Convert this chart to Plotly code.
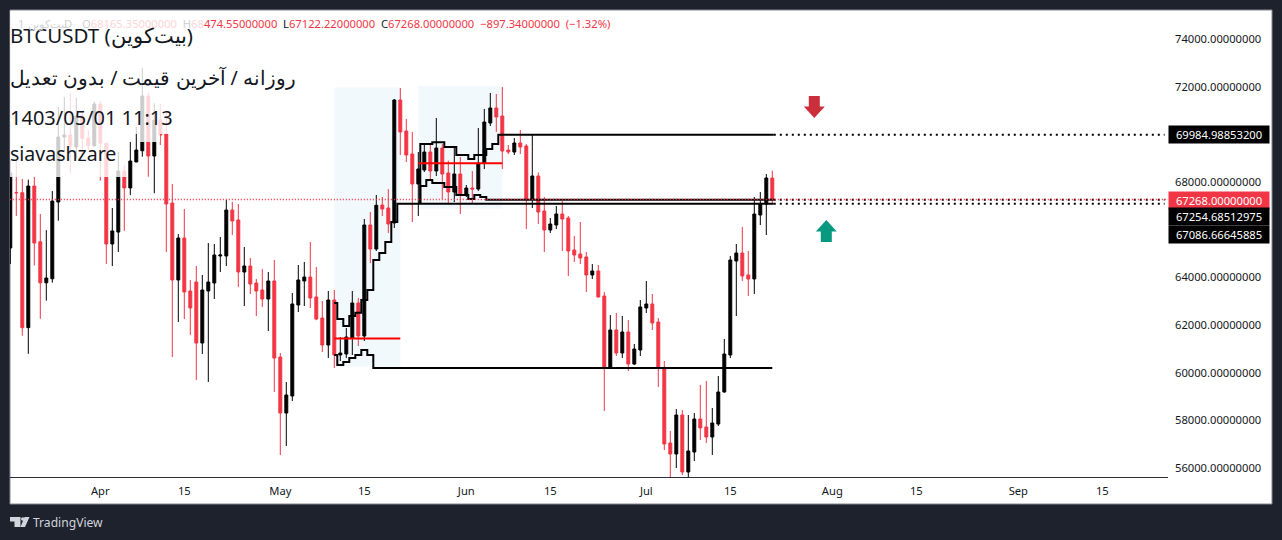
import pandas as pd
import plotly.graph_objects as go

BG = "#1e222d"
RED = "#f23645"
INK = "#131722"
FONT = "Noto Sans"

# daily candles, 17 Mar 2024 -> 22 Jul 2024
first_day = "2024-03-17"
open_ = [65230, 67550, 67550, 61890, 67830, 65490, 63770, 63940, 67160, 69888, 69972, 69470, 70800, 69840, 69520, 71270,
         69624, 65400, 65900, 68460, 67750, 68840, 69310, 71608, 69090, 70600, 70014, 67118, 63888, 65650, 63426, 63804,
         61244, 63426, 63762, 64895, 64895, 66825, 66405, 64223, 64475, 63762, 63468, 63090, 63846, 60656, 58307, 59020,
         62839, 63846, 64014, 63174, 62293, 61160, 63048, 60740, 60782, 61454, 62923, 61538, 66195, 65188, 67035, 66909,
         66279, 71440, 70140, 69175, 67916, 68503, 69258, 68461, 69426, 68377, 67580, 68335, 67496, 67748, 67706, 68797,
         70475, 71105, 70769, 69342, 69258, 69636, 69510, 67287, 68251, 66783, 65986, 66195, 66657, 66489, 65147, 64979,
         64853, 64097, 64265, 63216, 60237, 61790, 60824, 61706, 60363, 60950, 62713, 62881, 62125, 60153, 57048, 56587,
         58223, 55831, 56670, 58055, 57720, 57300, 57845, 59188, 60740, 64685, 65020, 64097, 63930, 66615, 67077, 68165]
high = [68920, 68920, 68125, 68100, 68210, 66660, 65980, 67620, 71147, 71566, 71730, 71537, 71020, 70180, 71370, 71400,
        69650, 66910, 69258, 68725, 69680, 70308, 72783, 71760, 71300, 71272, 71021, 67916, 65818, 66867, 63888, 64475,
        64097, 65440, 65398, 65692, 67245, 67160, 67077, 65272, 64810, 63930, 64349, 64223, 64727, 60824, 59608, 63342,
        64517, 64643, 65482, 64433, 63007, 63426, 63468, 61496, 61873, 63426, 63133, 66447, 66741, 67454, 67370, 67706,
        71482, 71944, 70643, 70098, 69258, 69594, 69636, 70685, 69594, 68900, 69426, 69048, 67874, 68461, 70266, 71063,
        71734, 71692, 71986, 69552, 69846, 70182, 69594, 69972, 68400, 67370, 66489, 66993, 67203, 66573, 65734, 66321,
        65063, 64559, 64517, 63384, 62419, 62503, 62377, 62209, 61202, 63048, 63846, 63300, 62293, 60489, 57552, 58475,
        58433, 58223, 58307, 59482, 59650, 58517, 59860, 61412, 64895, 65398, 66111, 65105, 67370, 67580, 68335, 68474]
low = [64555, 66573, 61550, 60790, 64500, 62260, 63020, 63775, 66376, 69280, 68380, 69000, 69130, 69340, 69480, 68055,
       64560, 64475, 65060, 65950, 67450, 68830, 69061, 68222, 67526, 69552, 65062, 60656, 62125, 62250, 61580, 59692,
       60783, 59608, 63090, 64223, 64475, 65776, 63594, 62797, 63300, 62377, 62755, 61747, 59188, 56545, 56922, 58810,
       62545, 62797, 62713, 62200, 60866, 60614, 60195, 60489, 60614, 60740, 61118, 61328, 64601, 65105, 66573, 65860,
       66070, 69133, 68839, 66321, 66573, 68420, 68083, 68251, 67287, 67119, 67160, 66657, 67370, 67077, 67622, 68545,
       70350, 70098, 68545, 69175, 69133, 69175, 66027, 66910, 66237, 65062, 65860, 66027, 65105, 64056, 64643, 64559,
       63384, 63930, 63150, 58391, 60195, 60699, 60614, 60069, 60320, 60699, 62503, 61790, 59398, 56754, 53500, 56000,
       55705, 54300, 56293, 57174, 57048, 56545, 57762, 59160, 60614, 62377, 63846, 63216, 63300, 66195, 65776, 67122]
close = [68380, 67550, 61890, 67830, 65440, 63770, 63970, 67200, 69888, 69972, 69510, 70770, 69833, 69520, 71270, 69624,
         65400, 65944, 68460, 67750, 68880, 69342, 71608, 69090, 70600, 69972, 67077, 63888, 65650, 63384, 62713, 61244,
         63468, 63804, 64937, 64937, 66825, 66363, 64223, 64475, 63720, 63426, 63090, 63846, 60614, 58307, 59062, 62881,
         63888, 64014, 63132, 62251, 61160, 63048, 60740, 60824, 61496, 62923, 61538, 66195, 65188, 67022, 66867, 66237,
         71440, 70098, 69133, 67916, 68545, 69258, 68461, 69426, 68335, 67580, 68335, 67496, 67748, 67706, 68797, 70517,
         71105, 70727, 69300, 69258, 69636, 69468, 67287, 68251, 66741, 65986, 66237, 66657, 66447, 65105, 64937, 64810,
         64097, 64265, 63174, 60237, 61790, 60824, 61706, 60363, 60992, 62755, 62881, 62083, 60195, 57006, 56587, 58223,
         55831, 56712, 58055, 57678, 57300, 57887, 59188, 60782, 64727, 65020, 64056, 63930, 66657, 67077, 68167, 67268]
dates = pd.date_range(first_day, periods=len(close), freq="D")

last_price = 67268.0
level_high = 69984.98853200
level_mid = 67254.68512975
level_low = 67086.66645885
level_base = 60195

y_ticks = [56000, 58000, 60000, 62000, 64000, 66000, 68000, 70000, 72000, 74000]
x_ticks = ["2024-04-01", "2024-04-15", "2024-05-01", "2024-05-15", "2024-06-01", "2024-06-15",
           "2024-07-01", "2024-07-15", "2024-08-01", "2024-08-15", "2024-09-01", "2024-09-15"]
x_labels = ["Apr", "15", "May", "15", "Jun", "15", "Jul", "15", "Aug", "15", "Sep", "15"]

# step lines around the two shaded zones
zone1_upper_x = ["2024-05-10 00:00", "2024-05-10 12:00", "2024-05-11 12:00", "2024-05-12 12:00", "2024-05-13 12:00",
                 "2024-05-14 12:00", "2024-05-15 12:00", "2024-05-16 12:00", "2024-05-17 12:00", "2024-05-18 12:00",
                 "2024-05-19 12:00", "2024-05-20 12:00", "2024-07-22 06:00"]
zone1_upper_y = [62923, 62251, 61957, 62377, 62516, 63048, 63468, 64727, 65020, 65482, 66321, level_low, level_low]
zone1_lower_x = ["2024-05-10 00:00", "2024-05-10 12:00", "2024-05-11 12:00", "2024-05-12 12:00", "2024-05-13 12:00",
                 "2024-05-14 12:00", "2024-05-15 12:00", "2024-05-16 12:00", "2024-07-22 00:00"]
zone1_lower_y = [60740, 60321, 60447, 60614, 60740, 60950, 60740, level_base, level_base]
zone2_upper_x = ["2024-05-24 08:00", "2024-05-24 08:00", "2024-05-26 08:00", "2024-05-28 08:00", "2024-05-30 08:00",
                 "2024-06-01 08:00", "2024-06-02 08:00", "2024-06-04 08:00", "2024-06-05 08:00", "2024-06-06 08:00",
                 "2024-07-22 06:00"]
zone2_upper_y = [level_low, 69594, 69665, 69468, 69133, 68965, 69133, 69384, 69594, level_high, level_high]
zone2_lower_x = ["2024-05-24 08:00", "2024-05-24 08:00", "2024-05-25 08:00", "2024-05-26 08:00", "2024-05-28 08:00",
                 "2024-05-30 08:00", "2024-06-01 08:00", "2024-06-02 08:00", "2024-06-03 08:00", "2024-06-04 08:00",
                 "2024-07-22 06:00"]
zone2_lower_y = [level_low, 67832, 68084, 67958, 67790, 67454, 67287, 67454, 67370, level_mid, level_mid]

zone1 = dict(start="2024-05-10", end="2024-05-21", top=71980, bottom=60250, mid=61430)
zone2 = dict(start="2024-05-24", end="2024-06-07", top=72020, bottom=66880, mid=68790)


def px(v):
    return (v - 10) / 1158


def py(v):
    return (477 - v) / 467


fig = go.Figure()

fig.add_trace(go.Candlestick(
    x=dates, open=open_, high=high, low=low, close=close,
    increasing=dict(line=dict(color="#000000", width=1), fillcolor="#000000"),
    decreasing=dict(line=dict(color=RED, width=1), fillcolor=RED),
    whiskerwidth=0, showlegend=False, hoverinfo="skip",
))

for sx, sy in [(zone1_upper_x, zone1_upper_y), (zone1_lower_x, zone1_lower_y),
               (zone2_upper_x, zone2_upper_y), (zone2_lower_x, zone2_lower_y)]:
    fig.add_trace(go.Scatter(x=sx, y=sy, mode="lines", line=dict(color="#000000", width=2, shape="hv"),
                             showlegend=False, hoverinfo="skip"))

# dotted extensions to the price scale
for lvl in [level_high, level_mid, level_low]:
    fig.add_trace(go.Scatter(x=["2024-07-22 06:00", "2024-09-25 09:00"], y=[lvl, lvl], mode="lines",
                             line=dict(color="#000000", width=2, dash="2px,4px"),
                             showlegend=False, hoverinfo="skip"))

# current price line
fig.add_trace(go.Scatter(x=["2024-03-16 22:00", "2024-09-25 23:00"], y=[last_price, last_price], mode="lines",
                         line=dict(color="#ff2d40", width=1.5, dash="1px,2px"), showlegend=False, hoverinfo="skip"))

for z in [zone1, zone2]:
    fig.add_shape(type="rect", x0=z["start"], x1=z["end"], y0=z["bottom"], y1=z["top"],
                  fillcolor="#f2f9fd", line_width=0, layer="below")
    fig.add_shape(type="line", x0=z["start"], x1=z["end"], y0=z["mid"], y1=z["mid"],
                  line=dict(color="#ff0000", width=2))

# white panel behind the chart
fig.add_shape(type="rect", xref="paper", yref="paper", x0=px(10), x1=px(1272), y0=py(504), y1=py(10),
              fillcolor="#ffffff", line=dict(color="#868993", width=1), layer="below")

# fixed size arrows
fig.add_shape(type="path", xsizemode="pixel", ysizemode="pixel", xanchor="2024-07-29", yanchor=70685,
              path="M0,0 L-10.5,11.5 L-5.5,11.5 L-5.5,22 L5.5,22 L5.5,11.5 L10.5,11.5 Z",
              fillcolor="#cc2f3c", line_width=0)
fig.add_shape(type="path", xsizemode="pixel", ysizemode="pixel", xanchor="2024-07-31", yanchor=66405,
              path="M0,0 L-10.5,-11.5 L-5.5,-11.5 L-5.5,-22 L5.5,-22 L5.5,-11.5 L10.5,-11.5 Z",
              fillcolor="#089981", line_width=0)

# translucent backing of the header text
for x0, y0, x1, y1 in [(10, 11, 203, 58), (10, 58, 291, 97), (10, 97, 172, 134), (10, 134, 127, 177), (139, 134, 160, 142)]:
    fig.add_shape(type="rect", xref="paper", yref="paper", x0=px(x0), x1=px(x1), y0=py(y1), y1=py(y0),
                  fillcolor="rgba(255,255,255,0.8)", line_width=0, layer="above")

# TradingView logo
fig.add_shape(type="path", xref="paper", yref="paper",
              path=f"M{px(10)},{py(517)} L{px(20.5)},{py(517)} L{px(20.5)},{py(527)} L{px(14.5)},{py(527)} L{px(14.5)},{py(521.5)} L{px(10)},{py(521.5)} Z",
              fillcolor="#d1d4dc", line_width=0)
fig.add_shape(type="path", xref="paper", yref="paper",
              path=f"M{px(24.5)},{py(517)} L{px(29.5)},{py(517)} L{px(25)},{py(527)} L{px(20.5)},{py(527)} Z",
              fillcolor="#d1d4dc", line_width=0)
fig.add_shape(type="circle", xref="paper", yref="paper", x0=px(21), x1=px(24.6), y0=py(520.8), y1=py(517.2),
              fillcolor="#d1d4dc", line_width=0)


def note(x, y, text, size, color=INK, font=FONT):
    fig.add_annotation(xref="paper", yref="paper", x=px(x), y=py(y), text=text, showarrow=False,
                       xanchor="left", yanchor="middle", align="left", borderpad=0, borderwidth=0,
                       font=dict(family=font, size=size, color=color))


note(10, 35.5, "BTCUSDT (بیت‌کوین)", 20.5)
note(10, 77.5, "روزانه / آخرین قیمت / بدون تعدیل", 19.5)
note(10, 117.5, "1403/05/01 11:13", 20)
note(10, 153.5, "siavashzare", 19.5)

# legend row, its left part sits under the backing
faint = "#d0d1d3"
faint_red = "#fcd6da"
note(18, 23.5, "1", 11.2, faint)
note(28, 23.5, "بیت‌کوین", 11.2, faint)
note(64, 23.5, "D", 11.2, faint)
note(81.5, 23.5, f'<span style="color:{faint}">O</span><span style="color:{faint_red}">68165.35000000</span>'
                 f'  <span style="color:{faint}">H</span><span style="color:{faint_red}">68</span>'
                 f'<span style="color:{RED}">474.55000000</span>'
                 f'  L<span style="color:{RED}">67122.22000000</span>'
                 f'  C<span style="color:{RED}">67268.00000000</span>'
                 f'  <span style="color:{RED}">−897.34000000\u00a0\u00a0(−1.32%)</span>', 11.2)

note(33, 522, "TradingView", 12.1, "#d1d4dc")

# price labels on the scale
for lvl, shift, col, txt in [(level_high, 0, "#000000", "69984.98853200"),
                             (last_price, -1, RED, "67268.00000000"),
                             (level_mid, -17, "#000000", "67254.68512975"),
                             (level_low, -30.5, "#000000", "67086.66645885")]:
    fig.add_annotation(xref="paper", yref="y", x=1.0, y=lvl, yshift=shift, text=txt, showarrow=False,
                       xanchor="left", yanchor="middle", align="center", width=98, height=15,
                       bgcolor=col, font=dict(family=FONT, size=11.2, color="#ffffff"))

fig.update_layout(
    width=1282, height=540,
    margin=dict(l=10, r=114, t=10, b=63, pad=0),
    paper_bgcolor=BG, plot_bgcolor="rgba(0,0,0,0)",
    showlegend=False,
    xaxis=dict(range=["2024-03-16 22:48", "2024-09-25 22:48"], rangeslider=dict(visible=False),
               tickmode="array", tickvals=x_ticks, ticktext=x_labels, ticks="", showgrid=False, zeroline=False,
               showline=True, linecolor="#2a2e39", linewidth=1, tickangle=0, ticklabelstandoff=4,
               tickfont=dict(family=FONT, size=11.2, color=INK)),
    yaxis=dict(range=[55621.5, 75216.8], side="right", tickmode="array", tickvals=y_ticks, tickformat=".8f",
               ticks="", showgrid=False, zeroline=False, showline=False, ticklabelstandoff=6,
               tickfont=dict(family=FONT, size=11.2, color=INK)),
)

fig.write_html("out.html", config={"displayModeBar": False},
               post_script="document.body.style.margin='0';document.body.style.background='#1e222d';")
